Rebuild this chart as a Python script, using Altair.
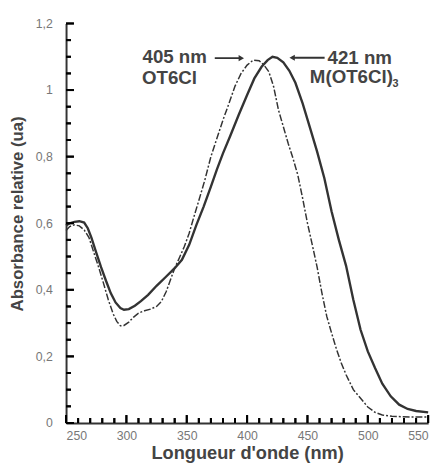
import altair as alt
import pandas as pd

# ---- data ----
wl_complex = [250, 253, 257, 261, 265, 268, 271, 275, 279, 283, 287, 291, 295, 298, 302, 307, 312, 318,
              325, 333, 340, 346, 352, 358, 364, 370, 375, 380, 386, 393, 400, 406, 412, 417, 421, 425,
              430, 435, 440, 446, 452, 458, 464, 470, 476, 482, 488, 494, 500, 506, 512, 519, 526, 533,
              540, 550]
abs_complex = [0.593, 0.600, 0.604, 0.606, 0.602, 0.585, 0.557, 0.512, 0.468, 0.428, 0.390, 0.362, 0.345,
               0.340, 0.342, 0.352, 0.366, 0.385, 0.412, 0.440, 0.465, 0.490, 0.535, 0.595, 0.650, 0.710,
               0.762, 0.810, 0.862, 0.925, 0.985, 1.035, 1.070, 1.090, 1.100, 1.097, 1.083, 1.058, 1.022,
               0.960, 0.888, 0.815, 0.735, 0.635, 0.550, 0.472, 0.370, 0.280, 0.215, 0.165, 0.118, 0.080,
               0.055, 0.042, 0.036, 0.032]

wl_polymer = [250, 253, 257, 261, 265, 269, 273, 277, 281, 285, 289, 292, 295, 298, 302, 306, 310, 315,
              320, 325, 329, 333, 336, 340, 344, 348, 352, 356, 360, 365, 370, 375, 380, 385, 390, 395,
              400, 405, 410, 414, 418, 422, 426, 430, 434, 438, 442, 446, 450, 454, 458, 462, 466, 470,
              474, 478, 482, 488, 494, 500, 506, 512, 520, 535, 550]
abs_polymer = [0.578, 0.590, 0.595, 0.592, 0.580, 0.557, 0.512, 0.468, 0.420, 0.370, 0.328, 0.305, 0.292,
               0.293, 0.303, 0.318, 0.330, 0.337, 0.342, 0.350, 0.365, 0.395, 0.425, 0.465, 0.497, 0.530,
               0.570, 0.620, 0.668, 0.730, 0.800, 0.855, 0.910, 0.960, 1.012, 1.050, 1.075, 1.090, 1.088,
               1.075, 1.055, 1.010, 0.940, 0.890, 0.840, 0.795, 0.745, 0.675, 0.600, 0.535, 0.468, 0.390,
               0.320, 0.270, 0.222, 0.180, 0.145, 0.100, 0.074, 0.048, 0.032, 0.024, 0.020, 0.018, 0.018]

peak_wl = [405, 421]
peak_abs = [1.09, 1.10]
peak_text = ["405 nm", "421 nm"]
species = ["OT6Cl", "M(OT6Cl)"]
subscript = ["", "3"]

x_major = [250, 300, 350, 400, 450, 500, 550]
x_minor = [260, 270, 280, 290, 310, 320, 330, 340, 360, 370, 380, 390, 410, 420, 430, 440,
           460, 470, 480, 490, 510, 520, 530, 540]
y_major = [0, 0.2, 0.4, 0.6, 0.8, 1.0, 1.2]
y_minor = [0.05, 0.1, 0.15, 0.25, 0.3, 0.35, 0.45, 0.5, 0.55, 0.65, 0.7, 0.75, 0.85, 0.9, 0.95,
           1.05, 1.1, 1.15]

X_DOMAIN = [250, 550]
Y_DOMAIN = [0, 1.2]

W, H = 368, 406
FONT = "Liberation Sans"
INK = "#333333"
TICK = "#000000"

df_c = pd.DataFrame({"wl": wl_complex, "a": abs_complex})
df_p = pd.DataFrame({"wl": wl_polymer, "a": abs_polymer})
df_peaks = pd.DataFrame({"wl": peak_wl, "a": peak_abs, "t": peak_text, "s": species, "sub": subscript})
df_p405 = df_peaks.iloc[[0]]
df_p421 = df_peaks.iloc[[1]]

xs = alt.Scale(domain=X_DOMAIN, nice=False, zero=False)
ys = alt.Scale(domain=Y_DOMAIN, nice=False, zero=True)

x_axis = alt.Axis(values=x_major, ticks=False, grid=False, domainColor=INK, domainWidth=2,
                  labelFont=FONT, labelFontSize=12.5, labelColor="#777", labelPadding=7,
                  title="Longueur d'onde (nm)", titleFont=FONT, titleFontSize=18.5, titleFontWeight="bold",
                  titleColor="#444", titleY=36, titleBaseline="alphabetic")
y_axis = alt.Axis(values=y_major, ticks=False, grid=False, domainColor=INK, domainWidth=2,
                  format="~g", labelExpr="replace(datum.label, '.', ',')",
                  labelFont=FONT, labelFontSize=12.5, labelColor="#777", labelPadding=14,
                  title="Absorbance relative (ua)", titleFont=FONT, titleFontSize=17,
                  titleFontWeight="bold", titleColor="#444", titleX=-49, titleY=193,
                  titleBaseline="middle", titleAlign="center", titleAngle=270)

X = lambda f="wl": alt.X(f"{f}:Q", scale=xs, axis=x_axis)
Y = lambda f="a": alt.Y(f"{f}:Q", scale=ys, axis=y_axis)

line_c = alt.Chart(df_c).mark_line(color=INK, strokeWidth=2.4).encode(x=X(), y=Y())
line_p = alt.Chart(df_p).mark_line(color=INK, strokeWidth=1.5, strokeDash=[7, 2, 2, 2]).encode(x=X(), y=Y())

# inward ticks: anchored on the axes through the scales, length as a pixel offset
def xticks(vals, length):
    d = pd.DataFrame({"wl": vals, "a": [Y_DOMAIN[0]] * len(vals)})
    return alt.Chart(d).mark_rule(color=TICK, strokeWidth=2, y2Offset=-length).encode(
        x=X(), x2="wl:Q", y=Y(), y2="a:Q")

def yticks(vals, length):
    d = pd.DataFrame({"a": vals, "wl": [X_DOMAIN[0]] * len(vals)})
    return alt.Chart(d).mark_rule(color=TICK, strokeWidth=2, x2Offset=length).encode(
        x=X(), x2="wl:Q", y=Y(), y2="a:Q")

def xticks_v(vals, length):
    return alt.Chart(pd.DataFrame({"wl": vals})).mark_rule(color=TICK, strokeWidth=2).encode(
        x=X(), y=alt.value(H), y2=alt.value(H - length))

def yticks_v(vals, length):
    return alt.Chart(pd.DataFrame({"a": vals})).mark_rule(color=TICK, strokeWidth=2).encode(
        y=Y(), x=alt.value(0), x2=alt.value(length))

ticks = [xticks(x_major, 8), xticks(x_minor, 5), yticks(y_major, 8), yticks(y_minor, 5),
         xticks_v(x_major, 8), xticks_v(x_minor, 5), yticks_v(y_major, 8), yticks_v(y_minor, 5)]

# annotations
tf = dict(font=FONT, fontSize=19, fontWeight="bold", color="#444")
t405 = alt.Chart(df_p405).mark_text(align="right", baseline="alphabetic", dx=-47, dy=3, **tf).encode(
    x=X(), y=Y(), text="t:N")
s405 = alt.Chart(df_p405).mark_text(align="right", baseline="alphabetic", dx=-57, dy=24, **tf).encode(
    x=X(), y=Y(), text="s:N")
a405 = alt.Chart(df_p405).mark_rule(color=INK, strokeWidth=1.8, xOffset=-39, x2Offset=-12, yOffset=-2,
                                     y2Offset=-2).encode(x=X(), x2="wl:Q", y=Y(), y2="a:Q")
h405 = alt.Chart(df_p405).mark_point(shape="triangle-right", filled=True, color=INK, size=40, opacity=1,
                                      xOffset=-12, yOffset=-2).encode(x=X(), y=Y())

t421 = alt.Chart(df_p421).mark_text(align="left", baseline="alphabetic", dx=56, dy=7, **tf).encode(
    x=X(), y=Y(), text="t:N")
s421 = alt.Chart(df_p421).mark_text(align="left", baseline="alphabetic", dx=38, dy=27, **tf).encode(
    x=X(), y=Y(), text="s:N")
sub421 = alt.Chart(df_p421).mark_text(align="left", baseline="alphabetic", dx=122, dy=31, font=FONT,
                                       fontSize=11, fontWeight="bold", color="#444").encode(
    x=X(), y=Y(), text="sub:N")
a421 = alt.Chart(df_p421).mark_rule(color=INK, strokeWidth=1.8, xOffset=20, x2Offset=53, yOffset=1,
                                     y2Offset=1).encode(x=X(), x2="wl:Q", y=Y(), y2="a:Q")
h421 = alt.Chart(df_p421).mark_point(shape="triangle-left", filled=True, color=INK, size=40, opacity=1,
                                      xOffset=20, yOffset=1).encode(x=X(), y=Y())

chart = alt.layer(
    line_p, line_c,
    a405, h405, t405, s405, a421, h421, t421, s421, sub421,
    *ticks,
).properties(
    width=W, height=H,
    padding={"left": 59, "top": 12, "right": 10, "bottom": 40},
    autosize=alt.AutoSizeParams(type="none"),
    background="white",
).configure_view(stroke=None)

chart.save("out.html", embed_options={"renderer": "svg", "actions": False})
